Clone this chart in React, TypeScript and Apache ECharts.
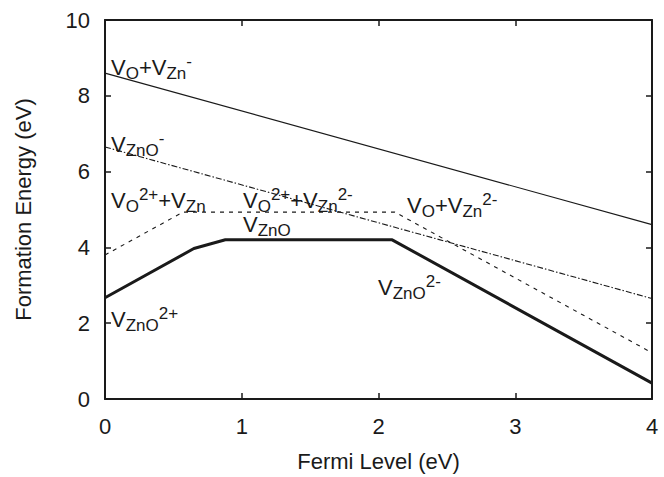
import React, { useEffect, useRef } from "react";
import * as echarts from "echarts";

const xTicks = [0, 1, 2, 3, 4];
const yTicks = [0, 2, 4, 6, 8, 10];

const vOvZn1: [number, number][] = [[0, 8.6], [4, 4.6]];
const vZnO1: [number, number][] = [[0, 6.65], [4, 2.65]];
const vOvZn2: [number, number][] = [[0, 3.8], [0.57, 4.93], [2.12, 4.93], [4, 1.22]];
const vZnO2: [number, number][] = [[0, 2.67], [0.65, 3.97], [0.88, 4.2], [2.1, 4.2], [4, 0.42]];

const labels: { text: string; x: number; y: number }[] = [
  { text: "{m|V}{sub|O}{m|+V}{sub|Zn}{sup|-}", x: 111, y: 53 },
  { text: "{m|V}{sub|ZnO}{sup|-}", x: 111, y: 130 },
  { text: "{m|V}{sub|O}{sup|2+}{m|+V}{sub|Zn}", x: 111, y: 186 },
  { text: "{m|V}{sub|O}{sup|2+}{m|+V}{sub|Zn}{sup|2-}", x: 243, y: 186 },
  { text: "{m|V}{sub|ZnO}", x: 243, y: 210 },
  { text: "{m|V}{sub|ZnO}{sup|2+}", x: 111, y: 305 },
  { text: "{m|V}{sub|O}{m|+V}{sub|Zn}{sup|2-}", x: 407, y: 191 },
  { text: "{m|V}{sub|ZnO}{sup|2-}", x: 378, y: 273 },
];

const FONT = "'Liberation Sans', Arial, Helvetica, sans-serif";
const INK = "#1a1a1a";

export default function App() {
  const ref = useRef<HTMLDivElement>(null);
  useEffect(() => {
    if (!ref.current) return;
    const chart = echarts.init(ref.current, undefined, { renderer: "svg" });
    const rich = {
      m: { fontSize: 22, lineHeight: 29, verticalAlign: "middle", fontFamily: FONT, color: INK },
      sub: { fontSize: 17, lineHeight: 16, verticalAlign: "bottom", fontFamily: FONT, color: INK },
      sup: { fontSize: 17, lineHeight: 16, verticalAlign: "top", fontFamily: FONT, color: INK },
    };
    const axisCommon = {
      min: 0,
      axisLine: { show: true, onZero: false, lineStyle: { color: INK, width: 2 } },
      axisTick: { show: true, inside: true, length: 6, lineStyle: { color: INK, width: 1.5 } },
      splitLine: { show: false },
    };
    const lineSeries = (data: [number, number][], width: number, type: any, name: string) => ({
      type: "line",
      name,
      data,
      symbol: "none",
      lineStyle: { color: INK, width, type },
      xAxisIndex: 0,
      yAxisIndex: 0,
      z: 3,
    });
    chart.setOption({
      animation: false,
      grid: { left: 105, top: 20, right: 12, bottom: 70 },
      xAxis: [
        {
          ...axisCommon,
          type: "value",
          max: 4,
          interval: 1,
          position: "bottom",
          axisLabel: { margin: 16, fontSize: 22, fontFamily: FONT, color: INK },
          name: "Fermi Level (eV)",
          nameLocation: "middle",
          nameGap: 51,
          nameTextStyle: { fontSize: 22, fontFamily: FONT, color: INK },
        },
        {
          ...axisCommon,
          type: "value",
          max: 4,
          interval: 1,
          position: "top",
          axisLabel: { show: false },
        },
      ],
      yAxis: [
        {
          ...axisCommon,
          type: "value",
          max: 10,
          interval: 2,
          position: "left",
          axisLabel: { margin: 15, fontSize: 22, fontFamily: FONT, color: INK },
          name: "Formation Energy (eV)",
          nameLocation: "middle",
          nameGap: 71,
          nameTextStyle: { fontSize: 22, fontFamily: FONT, color: INK },
        },
        {
          ...axisCommon,
          type: "value",
          max: 10,
          interval: 2,
          position: "right",
          axisLabel: { show: false },
        },
      ],
      series: [
        lineSeries(vOvZn1, 1.2, "solid", "VO+VZn-"),
        lineSeries(vZnO1, 1.1, [6, 2, 1.5, 2], "VZnO-"),
        lineSeries(vOvZn2, 1.1, [4, 5], "VO+VZn 2"),
        lineSeries(vZnO2, 3, "solid", "VZnO"),
      ],
      graphic: labels.map((l) => ({
        type: "text",
        x: l.x,
        y: l.y,
        z: 10,
        style: {
          text: l.text,
          rich,
          verticalAlign: "top",
          align: "left",
          fill: INK,
        },
      })),
    });
    return () => chart.dispose();
  }, []);
  return (
    <div
      ref={ref}
      style={{ position: "absolute", left: 0, top: 0, width: 664, height: 477, background: "#fff" }}
    />
  );
}
